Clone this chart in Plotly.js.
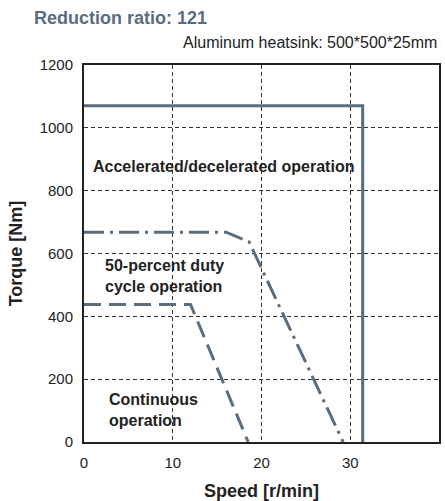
<!DOCTYPE html>
<html>
<head>
<meta charset="utf-8">
<script src="https://cdn.plot.ly/plotly-3.0.1.min.js"></script>
<style>html,body{margin:0;padding:0;background:#fff;}#chart{width:445px;height:501px;}</style>
</head>
<body>
<div id="chart"></div>
<script>
// Data
const speedAccel = [0, 31.4, 31.4];
const torqueAccel = [1070, 1070, 0];
const speedDuty = [0, 16, 18.6, 29.2];
const torqueDuty = [668, 668, 637, 0];
const speedCont = [0, 12, 18.5];
const torqueCont = [438, 438, 0];
const xTicks = [0, 10, 20, 30, 40];
const yTicks = [0, 200, 400, 600, 800, 1000, 1200];

const lineColor = '#5a6d7f';
const font = 'Liberation Sans, Arial, sans-serif';

const traces = [
  {x: speedAccel, y: torqueAccel, mode: 'lines', line: {color: lineColor, width: 3}, hoverinfo: 'skip'},
  {x: speedDuty, y: torqueDuty, mode: 'lines', line: {color: lineColor, width: 3, dash: '20px,6px,3px,6px'}, hoverinfo: 'skip'},
  {x: speedCont, y: torqueCont, mode: 'lines', line: {color: lineColor, width: 3, dash: '17px,8px'}, hoverinfo: 'skip'}
];

const layout = {
  width: 445, height: 501,
  margin: {l: 84, r: 6, t: 65, b: 59},
  showlegend: false,
  paper_bgcolor: '#fff', plot_bgcolor: '#fff',
  font: {family: font, size: 15, color: '#222'},
  xaxis: {
    range: [0, 40], tickvals: xTicks, ticktext: xTicks.map(String),
    showgrid: true, gridcolor: '#333', gridwidth: 1, griddash: '4px,3px',
    showline: true, mirror: true, linecolor: '#222', linewidth: 2,
    zeroline: false, ticks: '', ticklabelstandoff: 6,
    tickfont: {family: font, size: 15, color: '#222'},
    title: {text: '<b>Speed [r/min]</b>', font: {family: font, size: 18, color: '#222'}, standoff: 14}
  },
  yaxis: {
    range: [0, 1200], tickvals: yTicks, ticktext: yTicks.map(String),
    showgrid: true, gridcolor: '#333', gridwidth: 1, griddash: '4px,3px',
    showline: true, mirror: true, linecolor: '#222', linewidth: 2,
    zeroline: false, ticks: '', ticklabelstandoff: 6,
    tickfont: {family: font, size: 15, color: '#222'},
    title: {text: '<b>Torque [Nm]</b>', font: {family: font, size: 18, color: '#222'}, standoff: 12}
  },
  annotations: [
    {xref: 'paper', yref: 'paper', x: -0.1465, y: 1.1248, xanchor: 'left', yanchor: 'middle',
     text: '<b>Reduction ratio: 121</b>', showarrow: false, font: {family: font, size: 18, color: '#5a6d7f'}},
    {xref: 'paper', yref: 'paper', x: 1.0, y: 1.0584, xanchor: 'right', yanchor: 'middle',
     text: 'Aluminum heatsink: 500*500*25mm', showarrow: false, font: {family: font, size: 16, color: '#222'}},
    {x: 0.79, y: 878, xanchor: 'left', yanchor: 'middle', showarrow: false,
     text: '<b>Accelerated/decelerated operation</b>', font: {family: font, size: 16, color: '#222'}},
    {x: 2.17, y: 528, xanchor: 'left', yanchor: 'middle', showarrow: false, align: 'left',
     text: '<b>50-percent duty<br>cycle operation</b>', font: {family: font, size: 16, color: '#222'}},
    {x: 2.56, y: 101, xanchor: 'left', yanchor: 'middle', showarrow: false, align: 'left',
     text: '<b>Continuous<br>operation</b>', font: {family: font, size: 16, color: '#222'}}
  ]
};

Plotly.newPlot('chart', traces, layout, {staticPlot: true, displayModeBar: false});
</script>
</body>
</html>
